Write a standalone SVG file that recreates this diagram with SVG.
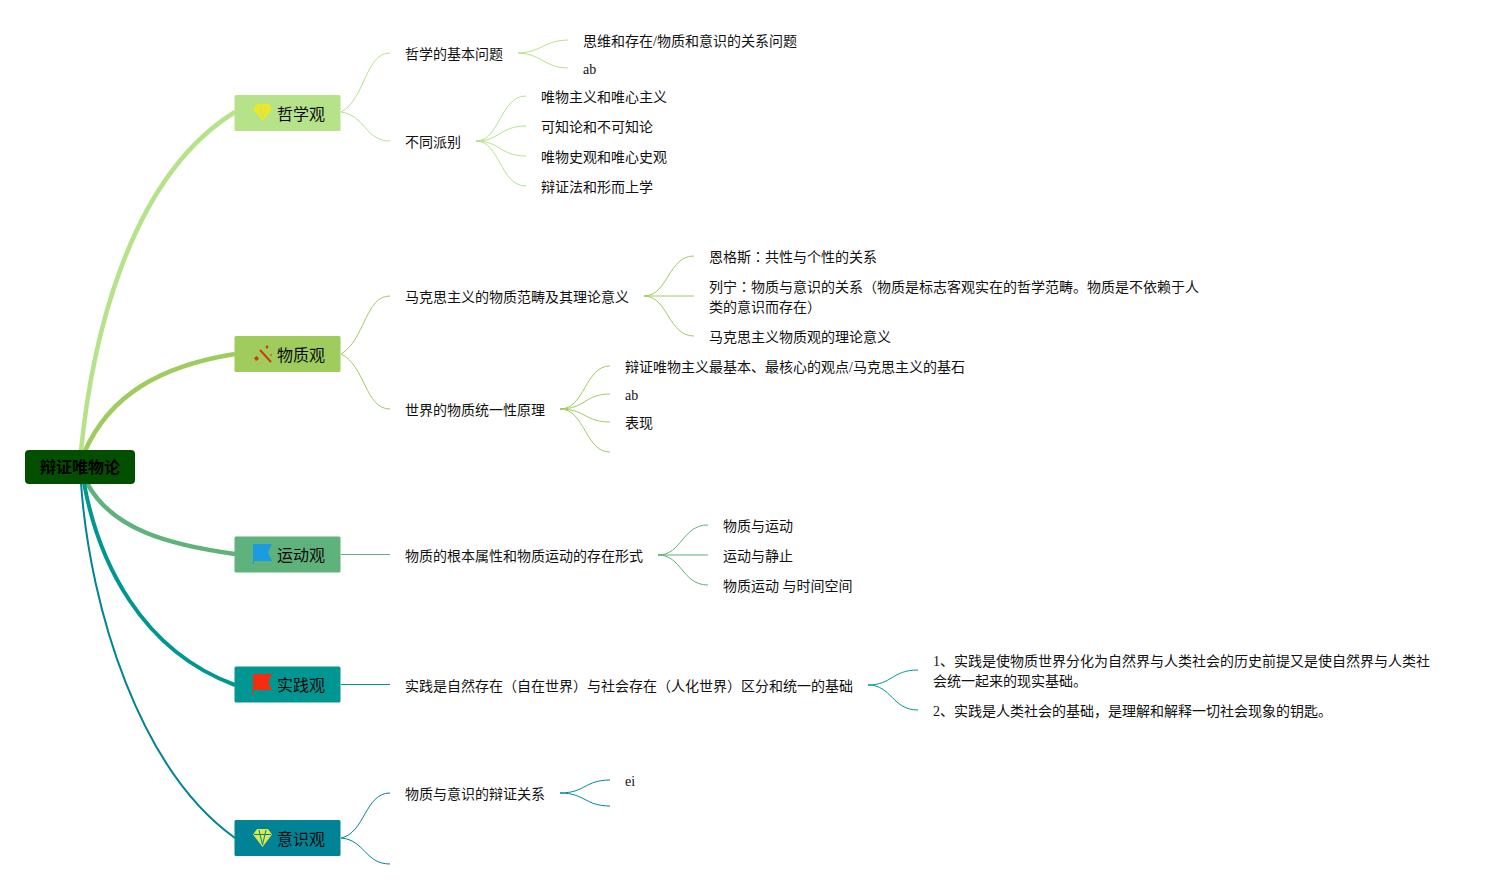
<svg xmlns="http://www.w3.org/2000/svg" width="1493" height="889" viewBox="0 0 1493 889">
<style>
text{font-family:"Liberation Serif","Noto Sans CJK SC",serif;font-size:14px;fill:#111}
.t{font-size:16px;fill:#0a0a0a}
.r{font-size:16px;font-weight:bold;fill:#000}
.k{font-family:"Noto Sans CJK TC",serif}
.c path{fill:none}
.a{stroke:#b6e38a}.b{stroke:#9fcc5d}.d{stroke:#5fb27b}.e{stroke:#009792}.f{stroke:#008397}
.s path{stroke-width:1}
</style>
<rect width="1493" height="889" fill="#fff"/>
<g id="connectors" class="c">
<path class="a" stroke-width="4.5" d="M81 451C91 350 125 180 235 112"/>
<path class="b" stroke-width="4.5" d="M85 451C110 395 160 366 235 354"/>
<path class="d" stroke-width="4.5" d="M87 483C112 530 170 545 235 554"/>
<path class="e" stroke-width="4" d="M84 483C98 560 140 650 235 685"/>
<path class="f" stroke-width="2" d="M81 483C90 610 140 770 235 838"/>
<g class="s">
<path class="a" d="M341 112C365 100 365 53 390 53"/><path class="a" d="M341 112C365 115 365 141 390 141"/>
<path class="b" d="M341 354C365 340 365 296 390 296"/><path class="b" d="M341 354C365 365 365 409 390 409"/>
<path class="d" d="M341 554.500H390"/><path class="e" d="M341 684.500H390"/>
<path class="f" d="M341 838C365 833 365 793 390 793"/><path class="f" d="M341 838C365 840 365 864 390 864"/>
<path class="a" d="M518 53C540 53 545 40 568 40"/><path class="a" d="M518 53C540 53 545 68 568 68"/>
<path class="a" d="M476 141C500 141 500 96 526 96"/><path class="a" d="M476 141C500 141 500 126 526 126"/><path class="a" d="M476 141C500 141 500 156 526 156"/><path class="a" d="M476 141C500 141 500 186 526 186"/>
<path class="b" d="M644 296C668 296 668 256 694 256"/><path class="b" d="M644 296H694"/><path class="b" d="M644 296C668 296 668 336 694 336"/>
<path class="b" d="M560 409C585 409 585 366 610 366"/><path class="b" d="M560 409C585 409 585 394 610 394"/><path class="b" d="M560 409C585 409 585 422 610 422"/><path class="b" d="M560 409C585 409 585 452 610 452"/>
<path class="d" d="M658 555C682 555 682 525 708 525"/><path class="d" d="M658 555H708"/><path class="d" d="M658 555C682 555 682 585 708 585"/>
<path class="e" d="M868 685C892 685 892 670 918 670"/><path class="e" d="M868 685C892 685 892 710 918 710"/>
<path class="f" d="M560 793C585 793 585 780 610 780"/><path class="f" d="M560 793C585 793 585 806 610 806"/>
</g>
</g>
<g id="root"><rect x="25" y="450" width="110" height="34" rx="4" fill="#034f00"/><text class="r" x="80" y="473" text-anchor="middle">辩证唯物论</text></g>
<g id="n1"><rect x="234.500" y="95" width="106" height="36" rx="1.500" fill="#b6e38a"/>
<path d="M257 104H269L272 109L263 121L253 109Z" fill="#e9e928"/><path d="M260 107L263 118L266 107" fill="none" stroke="#cfe060" stroke-width="1"/><text class="t" x="277" y="120">哲学观</text></g>
<g id="n2"><rect x="234.500" y="336" width="106" height="36" rx="1.500" fill="#9fcc5d"/>
<path d="M260 350L271 362" stroke="#cc3a0e" stroke-width="2" fill="none"/><path d="M254 358l3-2 2 3-3 2zM267 345l1.500 2-1.500 2-1.500-2zM271 354l1 1-1 1-1-1z" fill="#cc3a0e"/><text class="t" x="277" y="361">物质观</text></g>
<g id="n3"><rect x="234.500" y="536.500" width="106" height="36" rx="1.500" fill="#5fb27b"/>
<path d="M253 544H272L268 552.500L272 561H254V564H253Z" fill="#1b9ce0"/><text class="t" x="277" y="561">运动观</text></g>
<g id="n4"><rect x="234.500" y="666.500" width="106" height="36" rx="1.500" fill="#009792"/>
<path d="M253 674H272L268 682.500L272 690H254V695H253Z" fill="#f52c10"/><text class="t" x="277" y="691">实践观</text></g>
<g id="n5"><rect x="234.500" y="820" width="106" height="36" rx="1.500" fill="#008397"/>
<path d="M257 829H268L272 834.500L262.500 847L253 834.500Z" fill="#dfe84a"/><path d="M254 834.500H271M259 830L262.500 845L266 830" stroke="#008397" stroke-width="1" fill="none"/><text class="t" x="277" y="845">意识观</text></g>
<g id="n11"><text x="405" y="59">哲学的基本问题</text></g>
<g id="n12"><text x="405" y="147">不同派别</text></g>
<g id="n111"><text x="583" y="46">思维和存在/物质和意识的关系问题</text></g>
<g id="n112"><text x="583" y="74">ab</text></g>
<g id="n121"><text x="541" y="102">唯物主义和唯心主义</text></g>
<g id="n122"><text x="541" y="132">可知论和不可知论</text></g>
<g id="n123"><text x="541" y="162">唯物史观和唯心史观</text></g>
<g id="n124"><text x="541" y="192">辩证法和形而上学</text></g>
<g id="n21"><text x="405" y="302">马克思主义的物质范畴及其理论意义</text></g>
<g id="n211"><text x="709" y="262">恩格斯<tspan class="k">：</tspan>共性与个性的关系</text></g>
<g id="n212"><text x="709" y="292">列宁<tspan class="k">：</tspan>物质与意识的关系（物质是标志客观实在的哲学范畴。物质是不依赖于人</text><text x="709" y="312">类的意识而存在）</text></g>
<g id="n213"><text x="709" y="342">马克思主义物质观的理论意义</text></g>
<g id="n22"><text x="405" y="415">世界的物质统一性原理</text></g>
<g id="n221"><text x="625" y="372">辩证唯物主义最基本、最核心的观点/马克思主义的基石</text></g>
<g id="n222"><text x="625" y="400">ab</text></g>
<g id="n223"><text x="625" y="428">表现</text></g>
<g id="n31"><text x="405" y="561">物质的根本属性和物质运动的存在形式</text></g>
<g id="n311"><text x="723" y="531">物质与运动</text></g>
<g id="n312"><text x="723" y="561">运动与静止</text></g>
<g id="n313"><text x="723" y="591">物质运动 与时间空间</text></g>
<g id="n41"><text x="405" y="691">实践是自然存在（自在世界）与社会存在（人化世界）区分和统一的基础</text></g>
<g id="n411"><text x="933" y="666">1、实践是使物质世界分化为自然界与人类社会的历史前提又是使自然界与人类社</text><text x="933" y="686">会统一起来的现实基础。</text></g>
<g id="n412"><text x="933" y="716">2、实践是人类社会的基础，是理解和解释一切社会现象的钥匙。</text></g>
<g id="n51"><text x="405" y="799">物质与意识的辩证关系</text></g>
<g id="n511"><text x="625" y="786">ei</text></g>
</svg>
